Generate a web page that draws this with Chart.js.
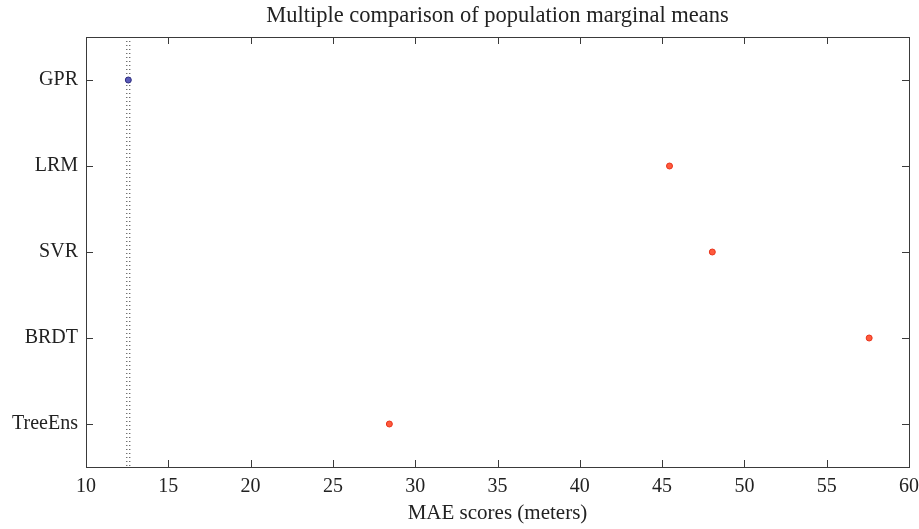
<!DOCTYPE html>
<html>
<head>
<meta charset="utf-8">
<script src="https://cdn.jsdelivr.net/npm/chart.js@4"></script>
<style>
  html, body { margin: 0; padding: 0; background: #fff; }
  #wrap { width: 919px; height: 529px; }
</style>
</head>
<body>
<div id="wrap"><canvas id="mcp"></canvas></div>
<script>
// model names, top to bottom
const models = ["GPR", "LRM", "SVR", "BRDT", "TreeEns"];
// estimated marginal means (MAE, meters)
const maeMeans = [12.57, 45.45, 48.05, 57.58, 28.43];
// comparison interval around the selected group (GPR)
const gprInterval = [12.48, 12.66];
const xTicks = [10, 15, 20, 25, 30, 35, 40, 45, 50, 55, 60];

const serif = "'Liberation Serif', 'DejaVu Serif', serif";
const frameColor = "#3a3a3a";

const pointColors = models.map((m, i) => i === 0 ? "#5a5ab8" : "#ff5a3c");
const pointBorders = models.map((m, i) => i === 0 ? "#2e2e80" : "#e8341c");

// frame + inward tick marks on all four sides
const frameTicks = {
    id: "frameTicks",
    afterDraw(chart) {
        const { ctx, chartArea: a, scales } = chart;
        ctx.save();
        ctx.strokeStyle = frameColor;
        ctx.lineWidth = 1;
        ctx.strokeRect(Math.round(a.left) + 0.5, Math.round(a.top) + 0.5,
            Math.round(a.right - a.left), Math.round(a.bottom - a.top));
        const len = 7;
        ctx.beginPath();
        xTicks.forEach(v => {
            const px = Math.round(scales.x.getPixelForValue(v)) + 0.5;
            ctx.moveTo(px, a.bottom); ctx.lineTo(px, a.bottom - len);
            ctx.moveTo(px, a.top); ctx.lineTo(px, a.top + len);
        });
        models.forEach((m, i) => {
            const py = Math.round(scales.y.getPixelForValue(i + 1)) + 0.5;
            ctx.moveTo(a.left, py); ctx.lineTo(a.left + len, py);
            ctx.moveTo(a.right, py); ctx.lineTo(a.right - len, py);
        });
        ctx.stroke();
        ctx.restore();
    }
};

new Chart(document.getElementById("mcp"), {
    type: "scatter",
    data: {
        datasets: [
            {
                label: "means",
                data: maeMeans.map((v, i) => ({ x: v, y: i + 1 })),
                backgroundColor: pointColors,
                borderColor: pointBorders,
                borderWidth: 1,
                pointRadius: 3,
                order: 0
            },
            {
                type: "line",
                label: "lower",
                data: [{ x: gprInterval[0], y: 0.5 }, { x: gprInterval[0], y: 5.5 }],
                borderColor: "#333",
                borderWidth: 1,
                borderDash: [1, 3],
                pointRadius: 0,
                order: 1
            },
            {
                type: "line",
                label: "upper",
                data: [{ x: gprInterval[1], y: 0.5 }, { x: gprInterval[1], y: 5.5 }],
                borderColor: "#333",
                borderWidth: 1,
                borderDash: [1, 3],
                pointRadius: 0,
                order: 1
            }
        ]
    },
    options: {
        responsive: true,
        maintainAspectRatio: false,
        animation: false,
        layout: { padding: 0 },
        plugins: {
            legend: { display: false },
            tooltip: { enabled: false },
            title: {
                display: true,
                fullSize: false,
                text: "Multiple comparison of population marginal means",
                color: "#222",
                font: { family: serif, size: 22.5, weight: "normal" },
                padding: { top: 3, bottom: 7 }
            }
        },
        scales: {
            x: {
                type: "linear",
                min: 10,
                max: 60,
                afterBuildTicks: s => { s.ticks = xTicks.map(v => ({ value: v })); },
                ticks: {
                    color: "#222",
                    font: { family: serif, size: 20 },
                    padding: 8,
                    maxRotation: 0
                },
                grid: { drawOnChartArea: false, drawTicks: false },
                border: { display: false },
                title: {
                    display: true,
                    text: "MAE scores (meters)",
                    color: "#222",
                    font: { family: serif, size: 21 },
                    padding: { top: 2, bottom: 3 }
                },
                afterFit: s => { s.height = 62; s.paddingRight = 10; s.paddingLeft = 0; }
            },
            y: {
                type: "linear",
                reverse: true,
                min: 0.5,
                max: 5.5,
                afterBuildTicks: s => { s.ticks = models.map((m, i) => ({ value: i + 1 })); },
                ticks: {
                    color: "#222",
                    font: { family: serif, size: 20 },
                    padding: 8,
                    callback: v => models[v - 1]
                },
                grid: { drawOnChartArea: false, drawTicks: false },
                border: { display: false },
                afterFit: s => { s.width = 86; s.paddingTop = 0; s.paddingBottom = 0; }
            }
        }
    },
    plugins: [frameTicks]
});
</script>
</body>
</html>
